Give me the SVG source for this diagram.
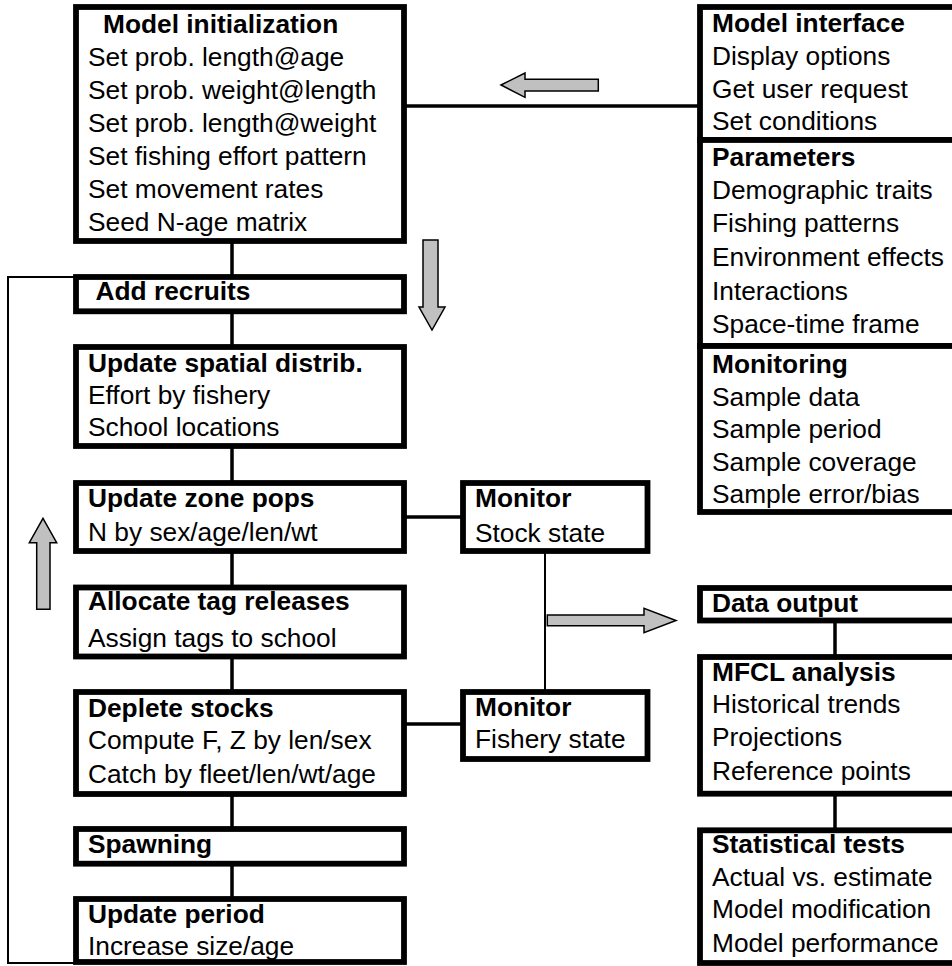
<svg xmlns="http://www.w3.org/2000/svg" width="952" height="966" viewBox="0 0 952 966">
<style>
.box{fill:#fff;stroke:#000;stroke-width:5.8}
.t{font-family:"Liberation Sans",Arial,sans-serif;font-size:26.3px;fill:#000}
.b{font-weight:bold}
.c{fill:none;stroke:#000;stroke-width:3.5}
.thin{fill:none;stroke:#000;stroke-width:2}
.ga{fill:#c0c0c0;stroke:#000;stroke-width:1.5;stroke-linejoin:miter}
</style>
<rect width="952" height="966" fill="#fff"/>
<g id="connectors">
<line class="c" x1="232" y1="241" x2="232" y2="829"/>
<line class="c" x1="232" y1="863" x2="232" y2="899"/>
<line class="c" x1="404" y1="106" x2="700" y2="106" stroke-width="3"/>
<line class="c" x1="404" y1="517" x2="463" y2="517" stroke-width="3"/>
<line class="c" x1="404" y1="724" x2="463" y2="724" stroke-width="3"/>
<line class="thin" x1="545" y1="551" x2="545" y2="692" stroke-width="1.6"/>
<polyline class="thin" points="76,963 8,963 8,277 76,277"/>
<line class="c" x1="835" y1="620" x2="835" y2="657"/>
<line class="c" x1="835" y1="794" x2="835" y2="830"/>
<polygon class="ga" points="501,85 525,73 525,79.3 598.3,79.3 598.3,91 525,91 525,97.3"/>
<polygon class="ga" points="423,240 438,240 438,307 445,307 432,330 419,307 423,307"/>
<polygon class="ga" points="43,518.3 56.7,542.7 50,542.7 50,609.3 36.7,609.3 36.7,542.7 29.3,542.7"/>
<polygon class="ga" points="547.3,615 644,615 644,608.3 676,620.5 644,632.7 644,625.7 547.3,625.7"/>
</g>
<g id="model-init">
<rect class="box" x="76" y="7" width="328" height="234"/>
<text class="t b" x="103" y="32.5">Model initialization</text>
<text class="t" x="88" y="65.5">Set prob. length@age</text>
<text class="t" x="88" y="98.5">Set prob. weight@length</text>
<text class="t" x="88" y="131.5">Set prob. length@weight</text>
<text class="t" x="88" y="164.5">Set fishing effort pattern</text>
<text class="t" x="88" y="197.5">Set movement rates</text>
<text class="t" x="88" y="230.5">Seed N-age matrix</text>
</g>
<g id="add-recruits">
<rect class="box" x="76" y="277" width="328" height="34.3"/>
<text class="t b" x="95.5" y="300">Add recruits</text>
</g>
<g id="spatial">
<rect class="box" x="76" y="347" width="328" height="99"/>
<text class="t b" x="88" y="371.7">Update spatial distrib.</text>
<text class="t" x="88" y="404">Effort by fishery</text>
<text class="t" x="88" y="436">School locations</text>
</g>
<g id="zone-pops">
<rect class="box" x="76" y="483" width="328" height="68"/>
<text class="t b" x="88" y="506.7">Update zone pops</text>
<text class="t" x="88" y="540.7">N by sex/age/len/wt</text>
</g>
<g id="tags">
<rect class="box" x="76" y="587.5" width="328" height="69"/>
<text class="t b" x="88" y="610">Allocate tag releases</text>
<text class="t" x="88" y="646.7">Assign tags to school</text>
</g>
<g id="deplete">
<rect class="box" x="76" y="692" width="328" height="102"/>
<text class="t b" x="88" y="716.7">Deplete stocks</text>
<text class="t" x="88" y="748.5">Compute F, Z by len/sex</text>
<text class="t" x="88" y="783">Catch by fleet/len/wt/age</text>
</g>
<g id="spawning">
<rect class="box" x="76" y="829" width="328" height="34.7"/>
<text class="t b" x="88" y="852.7">Spawning</text>
</g>
<g id="update-period">
<rect class="box" x="76" y="899" width="328" height="63"/>
<text class="t b" x="88" y="923.3">Update period</text>
<text class="t" x="88" y="955">Increase size/age</text>
</g>
<g id="monitor-stock">
<rect class="box" x="463" y="483" width="184.5" height="68"/>
<text class="t b" x="475" y="506.7">Monitor</text>
<text class="t" x="475" y="541.5">Stock state</text>
</g>
<g id="monitor-fishery">
<rect class="box" x="463" y="692" width="184.5" height="67"/>
<text class="t b" x="475" y="716">Monitor</text>
<text class="t" x="475" y="748.3">Fishery state</text>
</g>
<g id="model-interface">
<rect class="box" x="700" y="7" width="270" height="133"/>
<text class="t b" x="712" y="32.3">Model interface</text>
<text class="t" x="712" y="65">Display options</text>
<text class="t" x="712" y="97.7">Get user request</text>
<text class="t" x="712" y="130">Set conditions</text>
</g>
<g id="parameters">
<rect class="box" x="700" y="140" width="270" height="206"/>
<text class="t b" x="712" y="165.7">Parameters</text>
<text class="t" x="712" y="198.5">Demographic traits</text>
<text class="t" x="712" y="231.5">Fishing patterns</text>
<text class="t" x="712" y="265.7">Environment effects</text>
<text class="t" x="712" y="299.5">Interactions</text>
<text class="t" x="712" y="333.3">Space-time frame</text>
</g>
<g id="monitoring">
<rect class="box" x="700" y="346" width="270" height="166"/>
<text class="t b" x="712" y="373.3">Monitoring</text>
<text class="t" x="712" y="405.5">Sample data</text>
<text class="t" x="712" y="438">Sample period</text>
<text class="t" x="712" y="470.5">Sample coverage</text>
<text class="t" x="712" y="503">Sample error/bias</text>
</g>
<g id="data-output">
<rect class="box" x="700" y="588" width="270" height="32.5"/>
<text class="t b" x="712" y="611.7">Data output</text>
</g>
<g id="mfcl">
<rect class="box" x="700" y="657" width="270" height="136.7"/>
<text class="t b" x="712" y="680.7">MFCL analysis</text>
<text class="t" x="712" y="712.7">Historical trends</text>
<text class="t" x="712" y="746">Projections</text>
<text class="t" x="712" y="780">Reference points</text>
</g>
<g id="stat-tests">
<rect class="box" x="700" y="830.3" width="270" height="132.7"/>
<text class="t b" x="712" y="853.3">Statistical tests</text>
<text class="t" x="712" y="885.7">Actual vs. estimate</text>
<text class="t" x="712" y="918.3">Model modification</text>
<text class="t" x="712" y="951.7">Model performance</text>
</g>
</svg>
